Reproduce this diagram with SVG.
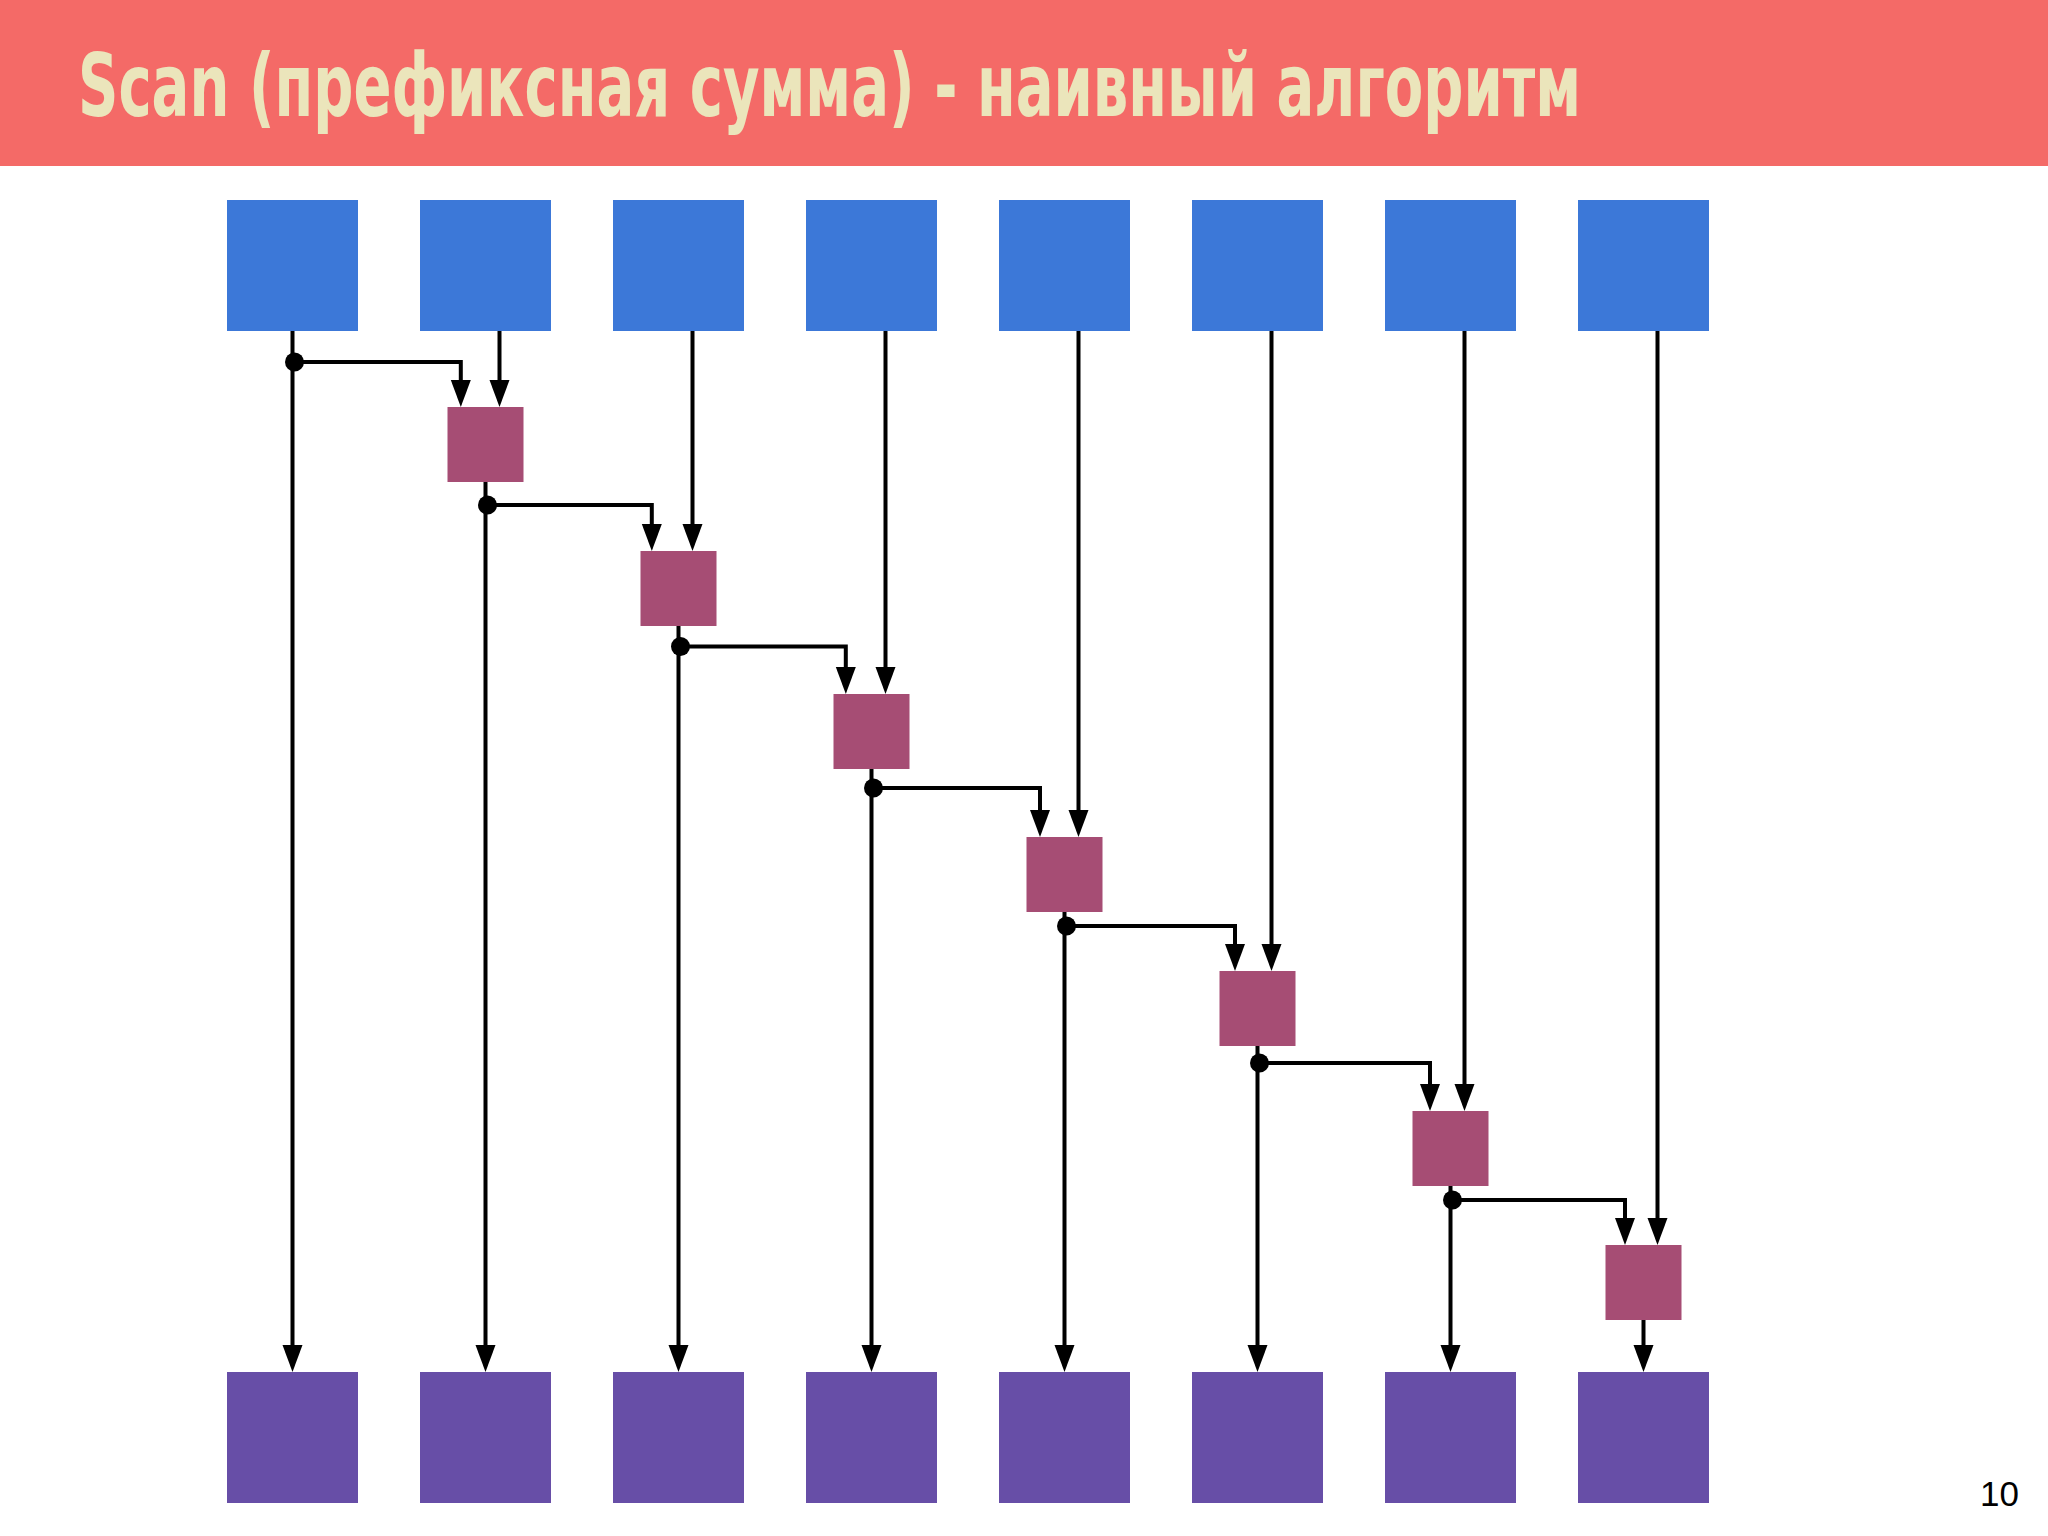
<svg xmlns="http://www.w3.org/2000/svg" width="2048" height="1536" viewBox="0 0 2048 1536">
<style>
.title{font-family:"Ubuntu Condensed","DejaVu Sans Condensed","Liberation Sans Narrow","Open Sans",sans-serif;font-size:88px;font-weight:bold;fill:#EBE5BB}
.pg{font-family:"Liberation Sans",Arial,sans-serif;font-size:35px;fill:#000}
.in{fill:#3C78D8}
.op{fill:#A64D74}
.out{fill:#674EA7}
.c{fill:none;stroke:#000;stroke-width:4}
</style>
<defs>
<marker id="arr" markerUnits="userSpaceOnUse" markerWidth="28" markerHeight="22" refX="0" refY="10" orient="auto" overflow="visible">
<path d="M0,0 L27,10 L0,20 z" fill="#000"/>
</marker>
<marker id="dot" markerUnits="userSpaceOnUse" markerWidth="20" markerHeight="20" refX="0" refY="0" overflow="visible">
<circle cx="2" cy="0" r="9.5" fill="#000"/>
</marker>
</defs>
<rect width="2048" height="1536" fill="#fff"/>
<g id="header">
<rect x="0" y="0" width="2048" height="166" fill="#F46A67"/>
<text class="title" x="78" y="116" textLength="1503" lengthAdjust="spacingAndGlyphs">Scan (префиксная сумма) - наивный алгоритм</text>
</g>
<g id="inputs">
<rect id="in0" class="in" x="227" y="200" width="131" height="131"/>
<rect id="in1" class="in" x="420" y="200" width="131" height="131"/>
<rect id="in2" class="in" x="613" y="200" width="131" height="131"/>
<rect id="in3" class="in" x="806" y="200" width="131" height="131"/>
<rect id="in4" class="in" x="999" y="200" width="131" height="131"/>
<rect id="in5" class="in" x="1192" y="200" width="131" height="131"/>
<rect id="in6" class="in" x="1385" y="200" width="131" height="131"/>
<rect id="in7" class="in" x="1578" y="200" width="131" height="131"/>
</g>
<g id="ops">
<rect id="op1" class="op" x="447.5" y="407" width="76" height="75"/>
<rect id="op2" class="op" x="640.5" y="551" width="76" height="75"/>
<rect id="op3" class="op" x="833.5" y="694" width="76" height="75"/>
<rect id="op4" class="op" x="1026.5" y="837" width="76" height="75"/>
<rect id="op5" class="op" x="1219.5" y="971" width="76" height="75"/>
<rect id="op6" class="op" x="1412.5" y="1111" width="76" height="75"/>
<rect id="op7" class="op" x="1605.5" y="1245" width="76" height="75"/>
</g>
<g id="outputs">
<rect id="out0" class="out" x="227" y="1372" width="131" height="131"/>
<rect id="out1" class="out" x="420" y="1372" width="131" height="131"/>
<rect id="out2" class="out" x="613" y="1372" width="131" height="131"/>
<rect id="out3" class="out" x="806" y="1372" width="131" height="131"/>
<rect id="out4" class="out" x="999" y="1372" width="131" height="131"/>
<rect id="out5" class="out" x="1192" y="1372" width="131" height="131"/>
<rect id="out6" class="out" x="1385" y="1372" width="131" height="131"/>
<rect id="out7" class="out" x="1578" y="1372" width="131" height="131"/>
</g>
<g id="connectors">
<path class="c" marker-end="url(#arr)" d="M292.5,331 V1345"/>
<path class="c" marker-end="url(#arr)" d="M499.5,331 V380"/>
<path class="c" marker-end="url(#arr)" d="M692.5,331 V524"/>
<path class="c" marker-end="url(#arr)" d="M885.5,331 V667"/>
<path class="c" marker-end="url(#arr)" d="M1078.5,331 V810"/>
<path class="c" marker-end="url(#arr)" d="M1271.5,331 V944"/>
<path class="c" marker-end="url(#arr)" d="M1464.5,331 V1084"/>
<path class="c" marker-end="url(#arr)" d="M1657.5,331 V1218"/>
<path class="c" marker-end="url(#arr)" d="M485.5,482 V1345"/>
<path class="c" marker-end="url(#arr)" d="M678.5,626 V1345"/>
<path class="c" marker-end="url(#arr)" d="M871.5,769 V1345"/>
<path class="c" marker-end="url(#arr)" d="M1064.5,912 V1345"/>
<path class="c" marker-end="url(#arr)" d="M1257.5,1046 V1345"/>
<path class="c" marker-end="url(#arr)" d="M1450.5,1186 V1345"/>
<path class="c" marker-end="url(#arr)" d="M1643.5,1320 V1345"/>
<path class="c" marker-start="url(#dot)" marker-end="url(#arr)" d="M292.5,362 H460.8 V380"/>
<path class="c" marker-start="url(#dot)" marker-end="url(#arr)" d="M485.5,505 H651.8 V524"/>
<path class="c" marker-start="url(#dot)" marker-end="url(#arr)" d="M678.5,646.5 H845.8 V667"/>
<path class="c" marker-start="url(#dot)" marker-end="url(#arr)" d="M871.5,788 H1040 V810"/>
<path class="c" marker-start="url(#dot)" marker-end="url(#arr)" d="M1064.5,926 H1235 V944"/>
<path class="c" marker-start="url(#dot)" marker-end="url(#arr)" d="M1257.5,1063 H1430 V1084"/>
<path class="c" marker-start="url(#dot)" marker-end="url(#arr)" d="M1450.5,1200 H1625 V1218"/>
</g>
<text class="pg" x="2019" y="1506" text-anchor="end">10</text>
</svg>
